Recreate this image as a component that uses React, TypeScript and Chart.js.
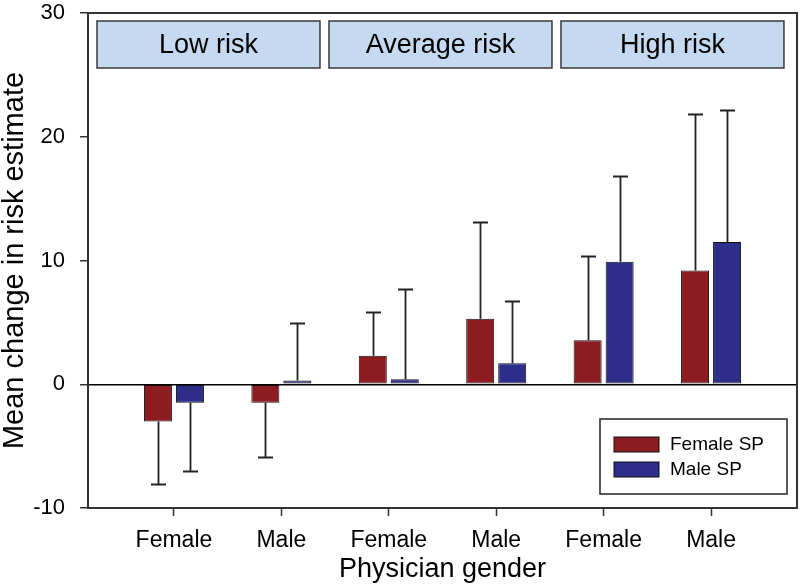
import React, { useEffect, useRef } from 'react';
import { Chart, registerables } from 'chart.js';

Chart.register(...registerables);

const categories = ['Female', 'Male', 'Female', 'Male', 'Female', 'Male'];
const panels = ['Low risk', 'Average risk', 'High risk'];
const seriesLabels = ['Female SP', 'Male SP'];
const femaleSP = [-3.0, -1.5, 2.3, 5.3, 3.55, 9.2];
const maleSP = [-1.5, 0.3, 0.4, 1.7, 9.9, 11.5];
const femaleSPErr = [5.1, 4.4, 3.5, 7.8, 6.8, 12.65];
const maleSPErr = [5.5, 4.65, 7.3, 5.05, 6.9, 10.7];
const yTicks = [-10, 0, 10, 20, 30];

const FONT = "'Liberation Sans', Arial, Helvetica, sans-serif";
const RED = '#8C1C20';
const BLUE = '#2C2E8A';

const errors = [femaleSPErr, maleSPErr];

const errorBarPlugin = {
  id: 'errorBars',
  afterDatasetsDraw(chart: any) {
    const ctx = chart.ctx;
    const yScale = chart.scales.y;
    ctx.save();
    ctx.strokeStyle = '#222';
    ctx.lineWidth = 1.8;
    chart.data.datasets.forEach((ds: any, di: number) => {
      const meta = chart.getDatasetMeta(di);
      meta.data.forEach((el: any, i: number) => {
        const v = ds.data[i].y;
        const e = errors[di][i];
        const end = v + (v < 0 ? -e : e);
        const x = Math.round(el.x) + 0.5;
        const y0 = yScale.getPixelForValue(v);
        const y1 = Math.round(yScale.getPixelForValue(end)) + 0.5;
        ctx.beginPath();
        ctx.moveTo(x, y0);
        ctx.lineTo(x, y1);
        ctx.moveTo(x - 7.5, y1);
        ctx.lineTo(x + 7.5, y1);
        ctx.stroke();
      });
    });
    ctx.restore();
  },
};

const decorPlugin = {
  id: 'decor',
  afterDraw(chart: any) {
    const ctx = chart.ctx;
    const a = chart.chartArea;
    const w = a.right - a.left;
    ctx.save();
    // panel header boxes
    panels.forEach((label, i) => {
      const x0 = a.left + w * (0.0127 + 0.3272 * i);
      const bw = w * 0.3145;
      const y0 = a.top + 8;
      const bh = 47;
      ctx.fillStyle = '#C5D9F1';
      ctx.fillRect(x0, y0, bw, bh);
      ctx.strokeStyle = '#3a3a3a';
      ctx.lineWidth = 1.5;
      ctx.strokeRect(x0, y0, bw, bh);
      ctx.fillStyle = '#000';
      ctx.font = `27px ${FONT}`;
      ctx.textAlign = 'center';
      ctx.textBaseline = 'middle';
      ctx.fillText(label, x0 + bw / 2, y0 + bh / 2 + 1);
    });
    // legend
    const lw = 187;
    const lh = 75;
    const lx = a.right - 10 - lw;
    const ly = a.bottom - 14 - lh;
    ctx.fillStyle = '#fff';
    ctx.fillRect(lx, ly, lw, lh);
    ctx.strokeStyle = '#222';
    ctx.lineWidth = 1.5;
    ctx.strokeRect(lx, ly, lw, lh);
    chart.data.datasets.forEach((ds: any, di: number) => {
      const sy = ly + 18 + di * 25;
      ctx.fillStyle = ds.backgroundColor;
      ctx.fillRect(lx + 14, sy, 45, 15);
      ctx.strokeStyle = '#111';
      ctx.lineWidth = 1;
      ctx.strokeRect(lx + 14, sy, 45, 15);
      ctx.fillStyle = '#000';
      ctx.font = `19px ${FONT}`;
      ctx.textAlign = 'left';
      ctx.textBaseline = 'middle';
      ctx.fillText(ds.label, lx + 70, sy + 8);
    });
    // plot frame
    ctx.strokeStyle = '#333';
    ctx.lineWidth = 2;
    ctx.strokeRect(a.left, a.top, w, a.bottom - a.top);
    ctx.restore();
  },
};

export default function App() {
  const ref = useRef<HTMLCanvasElement | null>(null);

  useEffect(() => {
    if (!ref.current) return;
    const chart = new Chart(ref.current, {
      type: 'bar',
      data: {
        datasets: [
          {
            label: seriesLabels[0],
            data: femaleSP.map((y, i) => ({ x: i + 1, y })),
            backgroundColor: RED,
            borderColor: '#111',
            borderWidth: 1,
            borderSkipped: false,
          },
          {
            label: seriesLabels[1],
            data: maleSP.map((y, i) => ({ x: i + 1, y })),
            backgroundColor: BLUE,
            borderColor: '#111',
            borderWidth: 1,
            borderSkipped: false,
          },
        ],
      },
      options: {
        animation: false,
        responsive: false,
        maintainAspectRatio: false,
        categoryPercentage: 0.596,
        barPercentage: 0.875,
        layout: { padding: { top: 13, right: 3, left: 0, bottom: 0 } },
        plugins: {
          legend: { display: false },
          tooltip: { enabled: false },
        },
        scales: {
          x: {
            type: 'linear',
            min: 0.2,
            max: 6.8,
            offset: false,
            afterBuildTicks: (s: any) => {
              s.ticks = categories.map((_, i) => ({ value: i + 1 }));
            },
            afterFit: (s: any) => {
              s.height = 80;
              s.paddingLeft = 0;
              s.paddingRight = 0;
            },
            ticks: {
              autoSkip: false,
              maxRotation: 0,
              color: '#000',
              font: { family: FONT, size: 23 },
              padding: 11,
              callback: (v: any) => categories[Math.round(v) - 1] ?? '',
            },
            grid: {
              offset: false,
              drawOnChartArea: false,
              drawTicks: true,
              tickLength: 8,
              tickColor: '#333',
              tickWidth: 1.5,
            },
            border: { display: true, color: '#333', width: 2 },
            title: {
              display: true,
              text: 'Physician gender',
              color: '#000',
              font: { family: FONT, size: 27, lineHeight: 1 },
              padding: { top: 0, bottom: 5 },
            },
          },
          y: {
            min: -10,
            max: 30,
            afterBuildTicks: (s: any) => {
              s.ticks = yTicks.map((v) => ({ value: v }));
            },
            afterFit: (s: any) => {
              s.width = 88;
              s.paddingTop = 0;
              s.paddingBottom = 0;
            },
            ticks: {
              color: '#000',
              font: { family: FONT, size: 22 },
              padding: 15,
            },
            grid: {
              drawOnChartArea: true,
              drawTicks: true,
              tickLength: 8,
              tickColor: '#333',
              tickWidth: 1.5,
              lineWidth: 1.5,
              color: (c: any) => (c.tick && c.tick.value === 0 ? '#000' : 'rgba(0,0,0,0)'),
            },
            border: { display: true, color: '#333', width: 2 },
            title: {
              display: true,
              text: 'Mean change in risk estimate',
              color: '#000',
              font: { family: FONT, size: 29, lineHeight: 1 },
              padding: { top: 0, bottom: 0 },
            },
          },
        },
      },
      plugins: [errorBarPlugin, decorPlugin],
    } as any);
    return () => chart.destroy();
  }, []);

  return (
    <div style={{ position: 'fixed', left: 0, top: 0, width: 800, height: 588, background: '#fff' }}>
      <canvas ref={ref} width={800} height={588} style={{ display: 'block' }} />
    </div>
  );
}
